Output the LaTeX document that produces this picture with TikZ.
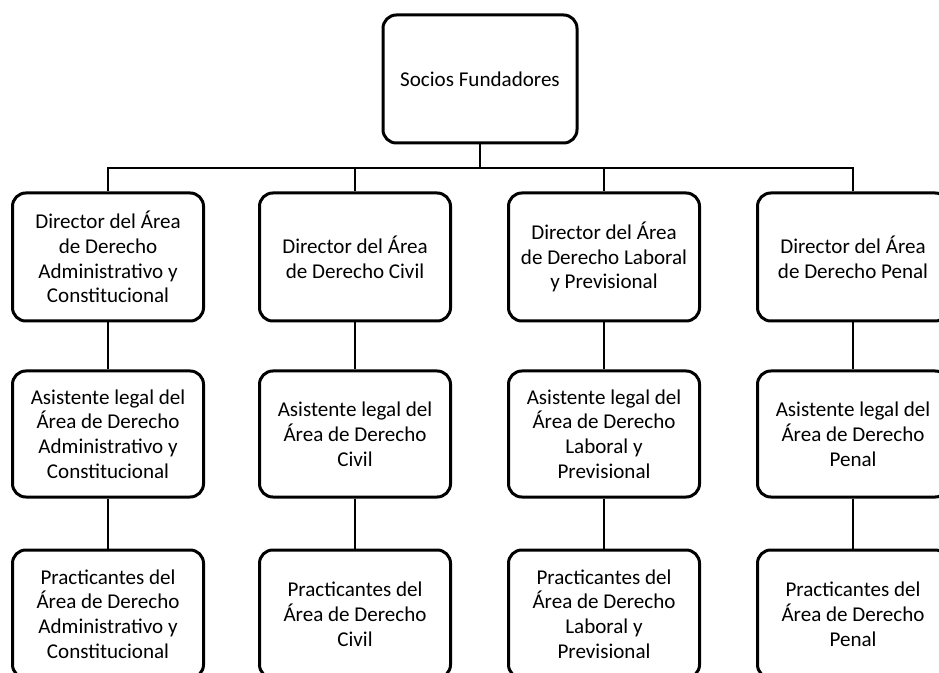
\documentclass[tikz,border=0pt]{standalone}
\usepackage{fontspec}
\setmainfont{Carlito}
\begin{document}
\begin{tikzpicture}[x=0.75pt,y=-0.75pt,
  orgbox/.style={draw=black,line width=2.25pt,rounded corners=10pt,fill=white,
    minimum width=143.25pt,minimum height=96pt,align=center,inner sep=1pt,
    font=\fontsize{15.8}{18.6}\selectfont},
  link/.style={draw=black,line width=1.5pt}]
\clip (0,0) rectangle (939,673);
\fill[white] (0,0) rectangle (939,673);
\node[orgbox,minimum width=145.5pt] (top) at (480,79) {Socios Fundadores};
% row 1
\node[orgbox] (d1) at (108,257) {Director del Área\\de Derecho\\Administrativo y\\Constitucional};
\node[orgbox] (d2) at (355,257) {Director del Área\\de Derecho Civil};
\node[orgbox] (d3) at (604,257) {Director del Área\\de Derecho Laboral\\y Previsional};
\node[orgbox] (d4) at (853,257) {Director del Área\\de Derecho Penal};
% row 2
\node[orgbox,minimum height=94.5pt] (a1) at (108,434) {Asistente legal del\\Área de Derecho\\Administrativo y\\Constitucional};
\node[orgbox,minimum height=94.5pt] (a2) at (355,434) {Asistente legal del\\Área de Derecho\\Civil};
\node[orgbox,minimum height=94.5pt] (a3) at (604,434) {Asistente legal del\\Área de Derecho\\Laboral y\\Previsional};
\node[orgbox,minimum height=94.5pt] (a4) at (853,434) {Asistente legal del\\Área de Derecho\\Penal};
% row 3
\node[orgbox] (p1) at (108,614) {Practicantes del\\Área de Derecho\\Administrativo y\\Constitucional};
\node[orgbox] (p2) at (355,614) {Practicantes del\\Área de Derecho\\Civil};
\node[orgbox] (p3) at (604,614) {Practicantes del\\Área de Derecho\\Laboral y\\Previsional};
\node[orgbox] (p4) at (853,614) {Practicantes del\\Área de Derecho\\Penal};
\coordinate (bus) at (480,168);
\draw[link] (top.south) -- (bus);
\draw[link] (d1.north) -- (d1.north |- bus) -- (d4.north |- bus) -- (d4.north);
\draw[link] (d2.north) -- (d2.north |- bus);
\draw[link] (d3.north) -- (d3.north |- bus);
\foreach \i in {1,2,3,4}{
  \draw[link] (d\i.south) -- (a\i.north);
  \draw[link] (a\i.south) -- (p\i.north);
}
\end{tikzpicture}
\end{document}
